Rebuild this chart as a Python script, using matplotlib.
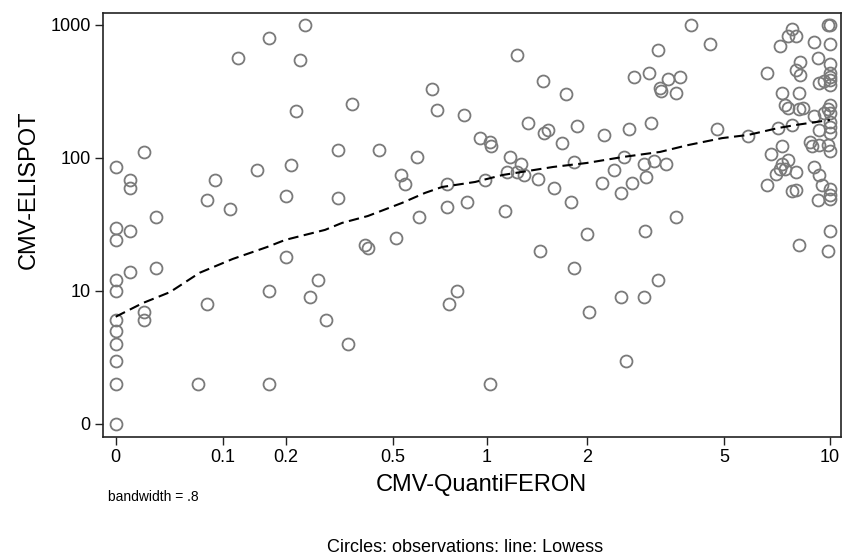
import matplotlib
matplotlib.use("Agg")
import matplotlib.pyplot as plt
import numpy as np

# CMV-QuantiFERON (x) and CMV-ELISPOT (y) observations
qfn = [0, 0, 0, 0, 0, 0, 0, 0, 0, 0, 0,
       0.01, 0.01, 0.01, 0.01, 0.02, 0.02, 0.02, 0.03, 0.03, 0.07,
       0.08, 0.08, 0.09, 0.11, 0.12, 0.15, 0.17, 0.17, 0.17, 0.20, 0.20,
       0.21, 0.22, 0.23, 0.24, 0.25, 0.27, 0.29, 0.32, 0.32, 0.35, 0.36,
       0.40, 0.41, 0.45, 0.51, 0.53, 0.55, 0.60, 0.61, 0.67, 0.70,
       0.75, 0.75, 0.76, 0.81, 0.85, 0.87, 0.95, 0.99, 1.02, 1.02, 1.03,
       1.14, 1.15, 1.18, 1.24, 1.24, 1.27, 1.30, 1.34, 1.43, 1.45, 1.48,
       1.49, 1.53, 1.60, 1.69, 1.74, 1.79, 1.83, 1.83, 1.87, 2.00, 2.03,
       2.22, 2.25, 2.41, 2.52, 2.52, 2.57, 2.60, 2.65, 2.71, 2.75,
       2.94, 2.94, 2.96, 2.98, 3.03, 3.08, 3.15, 3.23, 3.23, 3.27, 3.29,
       3.40, 3.46, 3.63, 3.63, 3.73, 4.02, 4.56, 4.76, 5.86, 6.62, 6.62,
       6.79, 7.02, 7.14, 7.22, 7.22, 7.32, 7.32, 7.32, 7.44, 7.44,
       7.62, 7.62, 7.62, 7.81, 7.81, 7.81, 8.00, 8.00, 8.00, 8.00,
       8.16, 8.16, 8.16, 8.24, 8.24, 8.37, 8.78, 8.88, 9.04, 9.04, 9.04,
       9.27, 9.27, 9.33, 9.33, 9.33, 9.33, 9.48, 9.65, 9.65,
       9.85, 9.85, 9.85, 9.88, 9.99,
       10, 10, 10, 10, 10, 10, 10, 10, 10, 10, 10, 10, 10, 10, 10, 10]
elispot = [85, 29, 23, 11, 9, 5, 4, 3, 2, 1, 0,
           67, 58, 27, 13, 109, 6, 5, 35, 14, 1,
           47, 7, 67, 40, 561, 80, 802, 9, 1, 17, 51,
           88, 224, 545, 990, 8, 11, 5, 113, 49, 3, 252,
           21, 20, 113, 24, 73, 63, 100, 35, 331, 229,
           42, 63, 7, 9, 210, 46, 140, 67, 130, 1, 121,
           39, 78, 100, 595, 77, 89, 73, 182, 68, 19, 378,
           154, 160, 58, 128, 300, 46, 92, 14, 172, 26, 6,
           64, 147, 80, 54, 8, 101, 2, 164, 64, 406,
           89, 8, 27, 71, 431, 183, 94, 649, 11, 332, 318,
           89, 394, 308, 35, 408, 990, 716, 164, 145, 431, 62,
           107, 75, 166, 691, 82, 308, 122, 89, 248, 82,
           819, 237, 95, 932, 176, 55, 819, 458, 78, 56,
           306, 231, 21, 523, 418, 237, 130, 122, 741, 206, 84,
           561, 47, 367, 160, 125, 74, 62, 378, 218,
           231, 125, 19, 990, 27,
           990, 716, 508, 431, 408, 385, 353, 248, 216, 186, 169, 154, 112, 57, 52, 48]

# Lowess curve (bandwidth .8)
lowess_q = [0, 0.019, 0.042, 0.072, 0.113, 0.166, 0.199, 0.287, 0.332, 0.41,
            0.536, 0.638, 0.724, 0.92, 1.12, 1.59, 2.0, 2.55, 3.27, 3.94,
            4.93, 5.86, 7.14, 8.0, 10]
lowess_e = [5.4, 7.1, 8.8, 12.7, 16.4, 20.4, 23.2, 27.8, 31.5, 35.6,
            44.9, 53.6, 59.5, 65, 73.5, 84.6, 90.7, 100.7, 110, 124,
            140, 148, 167, 176, 192]

xticks = [0, 0.1, 0.2, 0.5, 1, 2, 5, 10]
xticklabels = ["0", "0.1", "0.2", "0.5", "1", "2", "5", "10"]
yticks = [0, 9, 99, 999]
yticklabels = ["0", "10", "100", "1000"]

plt.rcParams["font.family"] = ["Liberation Sans", "DejaVu Sans"]


def fwd_x(x):
    with np.errstate(all="ignore"):
        return np.log10(np.asarray(x) + 0.1)


def inv_x(u):
    return 10 ** np.asarray(u) - 0.1


def fwd_y(y):
    with np.errstate(all="ignore"):
        return np.log10(np.asarray(y) + 1)


def inv_y(v):
    return 10 ** np.asarray(v) - 1


fig = plt.figure(figsize=(8.43, 5.55), dpi=100)
ax = fig.add_axes([103 / 843, 1 - 437 / 555, 738 / 843, 424 / 555])
ax.set_xscale("function", functions=(fwd_x, inv_x))
ax.set_yscale("function", functions=(fwd_y, inv_y))

ax.plot(qfn, elispot, linestyle="none", marker="o", markersize=8.6,
        markerfacecolor="none", markeredgecolor="#7a7a7a", markeredgewidth=1.3)
ax.plot(lowess_q, lowess_e, color="black", linewidth=1.5,
        linestyle=(0, (5, 2.6)))

ax.set_xlim(inv_x(-1.0356), inv_x(1.0356))
ax.set_ylim(inv_y(-0.098), inv_y(3.09))

ax.set_xticks(xticks)
ax.set_xticklabels(xticklabels)
ax.set_yticks(yticks)
ax.set_yticklabels(yticklabels)
ax.minorticks_off()
ax.tick_params(axis="both", length=6, width=1.0, color="#222222",
               labelsize=13, pad=3)

for s in ax.spines.values():
    s.set_linewidth(1.2)
    s.set_color("#222222")

ax.set_xlabel("CMV-QuantiFERON", fontsize=17)
ax.xaxis.set_label_coords((481 - 103) / 738, (437 - 474) / 424)
ax.set_ylabel("CMV-ELISPOT", fontsize=17)
ax.yaxis.set_label_coords((40 - 103) / 738, (437 - 190) / 424)

fig.text(108 / 843, 1 - 497 / 555, "bandwidth = .8", fontsize=10, va="center")
fig.text(465 / 843, 1 - 552 / 555, "Circles: observations: line: Lowess",
         fontsize=13, ha="center", va="baseline")

fig.savefig("out.png", dpi=100)
